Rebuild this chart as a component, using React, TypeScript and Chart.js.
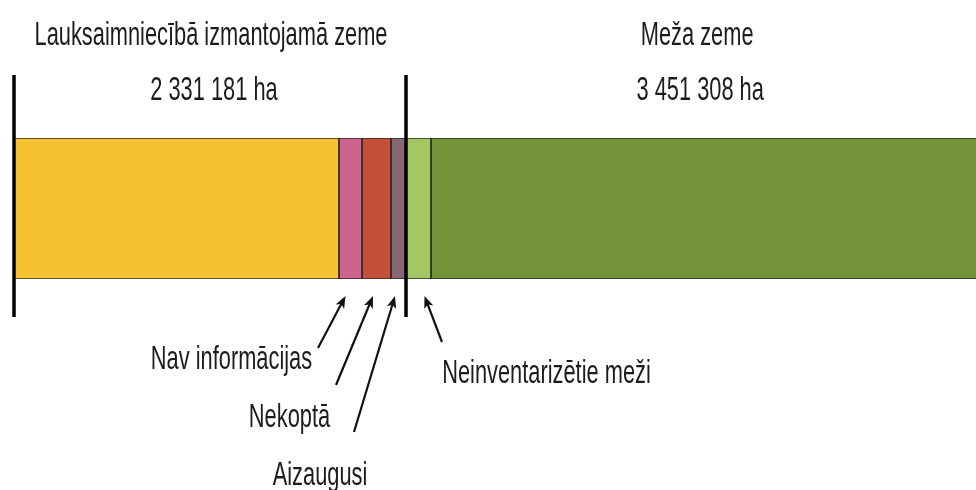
import React, { useEffect, useRef } from 'react';
import { Chart, registerables } from 'chart.js';

Chart.register(...registerables);

// ---- data ----
const categories = ['Zeme'];
const segmentLabels = [
  'Izmantotā lauksaimniecības zeme',
  'Nav informācijas',
  'Nekoptā',
  'Aizaugusi',
  'Neinventarizētie meži',
  'Inventarizētie meži',
];
const segmentValues = [1932700, 136800, 172500, 89181, 148700, 3302608];
const segmentColors = ['#F7C231', '#D0628E', '#C4503A', '#876870', '#A3C862', '#739339'];
const groupTitles = ['Lauksaimniecībā izmantojamā zeme', 'Meža zeme'];
const groupTotalLabels = ['2 331 181 ha', '3 451 308 ha'];
const groupValues = [2331181, 3451308];
const visibleMax = 5720900;

// callout labels: segment index, label
const calloutSegments = [1, 2, 3, 4];
const calloutLabels = ['Nav informācijas', 'Nekoptā', 'Aizaugusi', 'Neinventarizētie meži'];

const FONT = "'Liberation Sans Narrow', 'Arial Narrow', 'Liberation Sans', Arial, sans-serif";
const TEXT_COLOR = '#1c1c1c';

function drawArrow(ctx: CanvasRenderingContext2D, x1: number, y1: number, x2: number, y2: number) {
  const ang = Math.atan2(y2 - y1, x2 - x1);
  const head = 13;
  const spread = 0.38;
  ctx.beginPath();
  ctx.moveTo(x1, y1);
  ctx.lineTo(x2 - Math.cos(ang) * 6, y2 - Math.sin(ang) * 6);
  ctx.stroke();
  ctx.beginPath();
  ctx.moveTo(x2, y2);
  ctx.lineTo(x2 - head * Math.cos(ang - spread), y2 - head * Math.sin(ang - spread));
  ctx.lineTo(x2 - head * 0.7 * Math.cos(ang), y2 - head * 0.7 * Math.sin(ang));
  ctx.lineTo(x2 - head * Math.cos(ang + spread), y2 - head * Math.sin(ang + spread));
  ctx.closePath();
  ctx.fill();
}

const annotationPlugin = {
  id: 'landAnnotations',
  afterDatasetsDraw(chart: any) {
    const ctx: CanvasRenderingContext2D = chart.ctx;
    const xs = chart.scales.x;
    const el = chart.getDatasetMeta(0).data[0] as any;
    const barTop = el.y - el.height / 2;
    const barBottom = el.y + el.height / 2;

    // cumulative boundaries
    const cum: number[] = [0];
    segmentValues.forEach((v) => cum.push(cum[cum.length - 1] + v));
    const px = (v: number) => xs.getPixelForValue(v);

    ctx.save();
    // group divider lines
    ctx.strokeStyle = '#000';
    ctx.lineWidth = 3.5;
    const g0 = px(0);
    const g1 = px(groupValues[0]);
    [g0, g1].forEach((gx) => {
      ctx.beginPath();
      ctx.moveTo(gx, barTop - 63);
      ctx.lineTo(gx, barBottom + 38);
      ctx.stroke();
    });

    // text
    ctx.font = `33px ${FONT}`;
    ctx.fillStyle = TEXT_COLOR;
    ctx.textBaseline = 'alphabetic';
    ctx.textAlign = 'center';
    const sx = 353 / ctx.measureText(groupTitles[0]).width;
    const text = (s: string, cx: number, y: number) => {
      ctx.save();
      ctx.translate(cx, y);
      ctx.scale(sx, 1);
      ctx.fillText(s, 0, 0);
      ctx.restore();
    };
    const groupCenters = [
      (px(0) + px(groupValues[0])) / 2,
      (px(groupValues[0]) + px(groupValues[0] + groupValues[1])) / 2,
    ];
    groupTitles.forEach((t, i) => {
      text(t, groupCenters[i] + 1, barTop - 93);
      text(groupTotalLabels[i], groupCenters[i] + 4, barTop - 38);
    });

    // callouts
    const labelPos = [
      [231.5, 369],
      [289.5, 427],
      [320, 485],
      [546.5, 383],
    ];
    const tails = [
      [318, 348],
      [336, 385],
      [354, 432],
      [442, 342],
    ];
    const tipDx = [-5, -3.5, -3.5, 6];
    ctx.strokeStyle = '#111';
    ctx.fillStyle = '#111';
    ctx.lineWidth = 2.2;
    calloutSegments.forEach((si, i) => {
      const cx = (px(cum[si]) + px(cum[si + 1])) / 2 + tipDx[i];
      drawArrow(ctx, tails[i][0], tails[i][1], cx, barBottom + 17);
    });
    ctx.fillStyle = TEXT_COLOR;
    calloutLabels.forEach((l, i) => text(l, labelPos[i][0], labelPos[i][1]));
    ctx.restore();
  },
};

export default function App() {
  const ref = useRef<HTMLCanvasElement | null>(null);
  useEffect(() => {
    if (!ref.current) return;
    const chart = new Chart(ref.current, {
      type: 'bar',
      data: {
        labels: categories,
        datasets: segmentValues.map((v, i) => ({
          label: segmentLabels[i],
          data: [v],
          backgroundColor: segmentColors[i],
          borderColor: '#2a2a2a',
          borderWidth: 1.2,
          borderSkipped: false,
          barPercentage: 1,
          categoryPercentage: 1,
        })),
      },
      options: {
        indexAxis: 'y',
        animation: false,
        responsive: false,
        maintainAspectRatio: false,
        layout: { padding: { left: 14, right: 0, top: 138, bottom: 211 } },
        plugins: { legend: { display: false }, tooltip: { enabled: false } },
        scales: {
          x: { stacked: true, min: 0, max: visibleMax, display: false },
          y: { stacked: true, display: false },
        },
      },
      plugins: [annotationPlugin],
    });
    return () => chart.destroy();
  }, []);
  return (
    <div style={{ position: 'fixed', left: 0, top: 0, width: 976, height: 490, background: '#fff' }}>
      <canvas ref={ref} width={976} height={490} style={{ width: 976, height: 490 }} />
    </div>
  );
}
